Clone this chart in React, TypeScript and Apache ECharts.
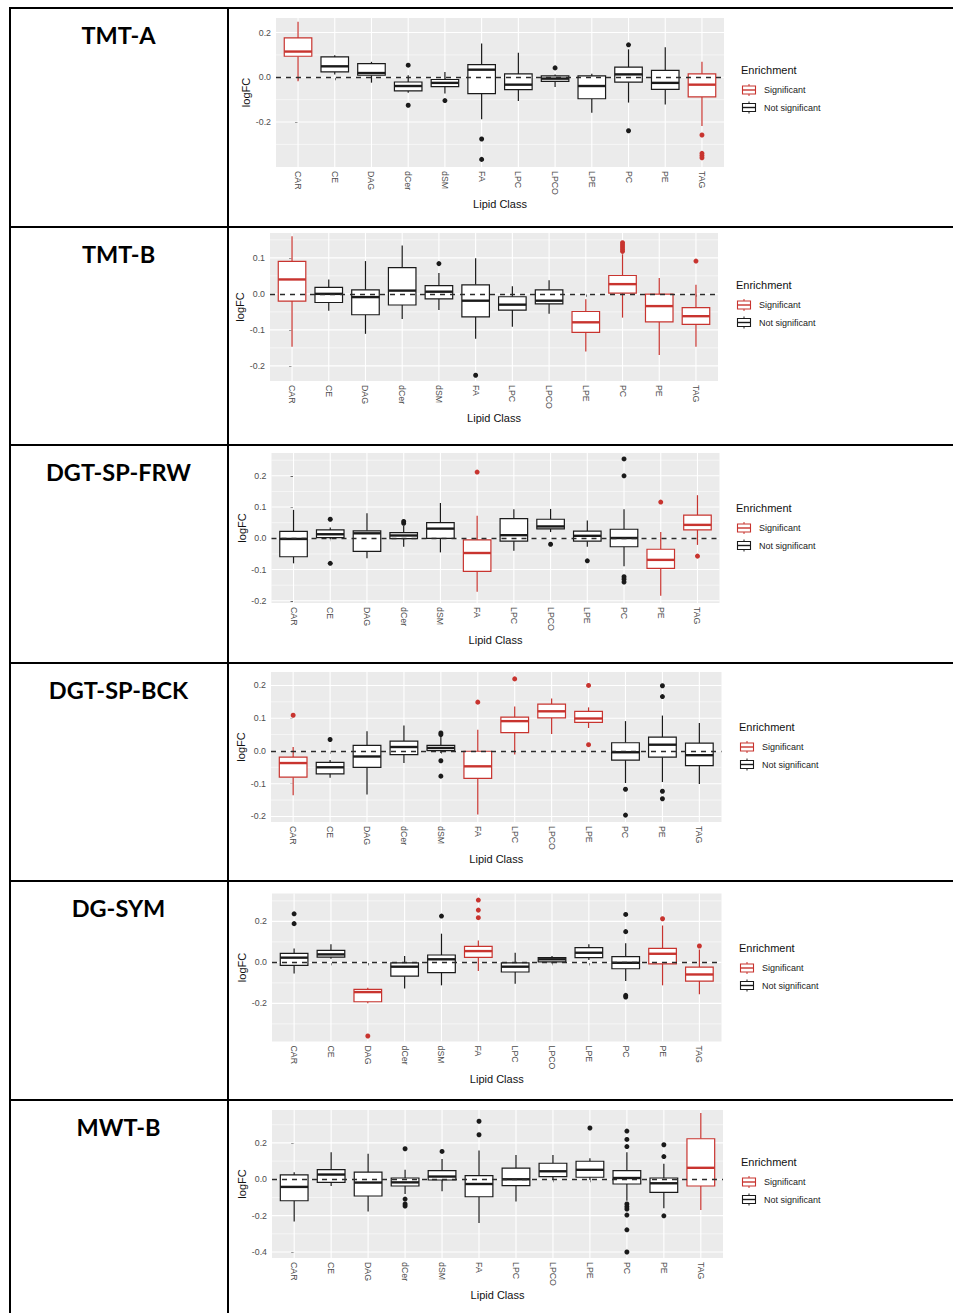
import React, { useEffect, useRef } from 'react';
import * as echarts from 'echarts';

const CATEGORIES = ['CAR', 'CE', 'DAG', 'dCer', 'dSM', 'FA', 'LPC', 'LPCO', 'LPE', 'PC', 'PE', 'TAG'];

// box stats per class: [lower whisker, Q1, median, Q3, upper whisker]
const TMT_A_STATS = [
  [-0.018, 0.094, 0.115, 0.176, 0.248],
  [0.012, 0.024, 0.049, 0.091, 0.098],
  [-0.024, 0.009, 0.019, 0.061, 0.069],
  [-0.069, -0.061, -0.039, -0.021, 0.009],
  [-0.073, -0.042, -0.025, -0.01, 0.024],
  [-0.188, -0.073, 0.034, 0.057, 0.151],
  [-0.106, -0.055, -0.033, 0.015, 0.11],
  [-0.043, -0.018, -0.006, 0.006, 0.012],
  [-0.158, -0.096, -0.039, 0.006, 0.016],
  [-0.113, -0.022, 0.013, 0.045, 0.125],
  [-0.122, -0.054, -0.025, 0.031, 0.134],
  [-0.218, -0.088, -0.033, 0.015, 0.069],
];
const TMT_A_SIG = ['CAR', 'TAG'];
const TMT_A_OUTLIERS: [string, number][] = [
  ['dCer', 0.054], ['dCer', -0.125], ['dSM', -0.104], ['FA', -0.276], ['FA', -0.367],
  ['LPCO', 0.042], ['PC', 0.145], ['PC', -0.239],
  ['TAG', -0.258], ['TAG', -0.34], ['TAG', -0.35], ['TAG', -0.36],
];

const TMT_B_STATS = [
  [-0.147, -0.02, 0.04, 0.09, 0.16],
  [-0.047, -0.024, 0.0, 0.018, 0.04],
  [-0.111, -0.058, -0.009, 0.011, 0.091],
  [-0.07, -0.031, 0.009, 0.073, 0.134],
  [-0.045, -0.014, 0.006, 0.023, 0.058],
  [-0.125, -0.064, -0.019, 0.025, 0.099],
  [-0.091, -0.045, -0.03, -0.008, 0.021],
  [-0.055, -0.028, -0.019, 0.011, 0.038],
  [-0.16, -0.107, -0.079, -0.049, -0.015],
  [-0.066, 0.002, 0.027, 0.051, 0.11],
  [-0.17, -0.078, -0.034, -0.001, 0.044],
  [-0.147, -0.085, -0.062, -0.038, 0.025],
];
const TMT_B_SIG = ['CAR', 'LPE', 'PC', 'PE', 'TAG'];
const TMT_B_OUTLIERS: [string, number][] = [
  ['dSM', 0.084], ['FA', -0.226],
  ['PC', 0.118], ['PC', 0.124], ['PC', 0.13], ['PC', 0.136], ['PC', 0.142],
  ['TAG', 0.091],
];

const FRW_STATS = [
  [-0.08, -0.059, -0.002, 0.022, 0.091],
  [-0.003, 0.002, 0.013, 0.027, 0.035],
  [-0.064, -0.042, 0.016, 0.024, 0.08],
  [-0.027, -0.001, 0.009, 0.018, 0.04],
  [-0.045, 0.0, 0.031, 0.05, 0.113],
  [-0.171, -0.106, -0.047, -0.005, 0.072],
  [-0.04, -0.009, 0.01, 0.063, 0.093],
  [0.02, 0.03, 0.038, 0.061, 0.094],
  [-0.027, -0.009, 0.008, 0.023, 0.057],
  [-0.089, -0.027, 0.001, 0.029, 0.093],
  [-0.184, -0.096, -0.069, -0.035, 0.02],
  [-0.021, 0.027, 0.043, 0.074, 0.138],
];
const FRW_SIG = ['FA', 'PE', 'TAG'];
const FRW_OUTLIERS: [string, number][] = [
  ['CE', 0.061], ['CE', -0.08], ['dCer', 0.054], ['dCer', 0.048], ['FA', 0.212],
  ['LPCO', -0.019], ['LPE', -0.072],
  ['PC', 0.254], ['PC', 0.2], ['PC', -0.123], ['PC', -0.131], ['PC', -0.14],
  ['PE', 0.116], ['TAG', -0.057],
];

const BCK_STATS = [
  [-0.135, -0.08, -0.037, -0.019, 0.012],
  [-0.082, -0.07, -0.05, -0.035, -0.028],
  [-0.133, -0.05, -0.017, 0.017, 0.06],
  [-0.037, -0.011, 0.012, 0.03, 0.078],
  [-0.006, 0.001, 0.009, 0.017, 0.045],
  [-0.194, -0.084, -0.047, -0.001, 0.065],
  [-0.011, 0.056, 0.091, 0.103, 0.136],
  [0.052, 0.101, 0.121, 0.143, 0.16],
  [0.07, 0.087, 0.099, 0.121, 0.133],
  [-0.098, -0.028, -0.004, 0.025, 0.091],
  [-0.095, -0.019, 0.019, 0.042, 0.108],
  [-0.101, -0.045, -0.013, 0.024, 0.085],
];
const BCK_SIG = ['CAR', 'FA', 'LPC', 'LPCO', 'LPE'];
const BCK_OUTLIERS: [string, number][] = [
  ['CAR', 0.109], ['CE', 0.035], ['dSM', 0.055], ['dSM', 0.05], ['dSM', -0.03], ['dSM', -0.077],
  ['FA', 0.149], ['LPC', 0.22], ['LPE', 0.2], ['LPE', 0.019],
  ['PC', -0.117], ['PC', -0.196],
  ['PE', 0.199], ['PE', 0.166], ['PE', -0.123], ['PE', -0.146],
];

const SYM_STATS = [
  [-0.054, -0.015, 0.023, 0.044, 0.068],
  [0.018, 0.026, 0.039, 0.059, 0.088],
  [-0.2, -0.192, -0.145, -0.132, -0.124],
  [-0.128, -0.067, -0.021, -0.002, 0.031],
  [-0.112, -0.05, 0.015, 0.036, 0.14],
  [-0.042, 0.024, 0.055, 0.078, 0.107],
  [-0.104, -0.047, -0.021, -0.002, 0.047],
  [-0.005, 0.002, 0.015, 0.023, 0.031],
  [0.011, 0.023, 0.047, 0.072, 0.088],
  [-0.091, -0.031, -0.002, 0.028, 0.093],
  [-0.112, -0.007, 0.042, 0.068, 0.18],
  [-0.156, -0.091, -0.059, -0.023, 0.063],
];
const SYM_SIG = ['DAG', 'FA', 'PE', 'TAG'];
const SYM_OUTLIERS: [string, number][] = [
  ['CAR', 0.237], ['CAR', 0.189], ['DAG', -0.359], ['dSM', 0.226],
  ['FA', 0.304], ['FA', 0.255], ['FA', 0.218],
  ['PC', 0.234], ['PC', 0.15], ['PC', -0.161], ['PC', -0.169],
  ['PE', 0.213], ['TAG', 0.08],
];

const MWT_STATS = [
  [-0.232, -0.118, -0.042, 0.024, 0.039],
  [-0.037, -0.017, 0.026, 0.053, 0.149],
  [-0.177, -0.092, -0.018, 0.039, 0.14],
  [-0.081, -0.037, -0.017, 0.007, 0.052],
  [-0.066, -0.004, 0.015, 0.048, 0.112],
  [-0.241, -0.096, -0.026, 0.02, 0.158],
  [-0.122, -0.035, 0.0, 0.061, 0.134],
  [-0.004, 0.015, 0.044, 0.088, 0.134],
  [-0.004, 0.011, 0.052, 0.099, 0.116],
  [-0.118, -0.026, 0.007, 0.048, 0.149],
  [-0.16, -0.072, -0.022, 0.007, 0.085],
  [-0.169, -0.037, 0.063, 0.223, 0.365],
];
const MWT_SIG = ['TAG'];
const MWT_OUTLIERS: [string, number][] = [
  ['dCer', 0.168], ['dCer', -0.109], ['dCer', -0.136], ['dCer', -0.147], ['dSM', 0.153],
  ['FA', 0.319], ['FA', 0.245], ['LPE', 0.282],
  ['PC', 0.265], ['PC', 0.219], ['PC', 0.18], ['PC', -0.136], ['PC', -0.151], ['PC', -0.164],
  ['PC', -0.197], ['PC', -0.278], ['PC', -0.4],
  ['PE', 0.19], ['PE', 0.125], ['PE', -0.201],
];

const ROW_LABELS = ['TMT-A', 'TMT-B', 'DGT-SP-FRW', 'DGT-SP-BCK', 'DG-SYM', 'MWT-B'];
const LEGEND_TITLE = 'Enrichment';
const LEGEND_ITEMS = ['Significant', 'Not significant'];

// axis ranges and tick values
const Y_RANGES = [
  [-0.401, 0.265],
  [-0.242, 0.169],
  [-0.207, 0.273],
  [-0.217, 0.241],
  [-0.386, 0.336],
  [-0.433, 0.381],
];
const Y_MAJOR = [
  [-0.2, 0, 0.2],
  [-0.2, -0.1, 0, 0.1],
  [-0.2, -0.1, 0, 0.1, 0.2],
  [-0.2, -0.1, 0, 0.1, 0.2],
  [-0.2, 0, 0.2],
  [-0.4, -0.2, 0, 0.2],
];
const Y_MINOR = [
  [-0.3, -0.1, 0.1],
  [-0.15, -0.05, 0.05, 0.15],
  [-0.15, -0.05, 0.05, 0.15, 0.25],
  [-0.15, -0.05, 0.05, 0.15],
  [-0.3, -0.1, 0.1, 0.3],
  [-0.3, -0.1, 0.1, 0.3],
];

const DATASETS = [
  { stats: TMT_A_STATS, sig: TMT_A_SIG, outliers: TMT_A_OUTLIERS },
  { stats: TMT_B_STATS, sig: TMT_B_SIG, outliers: TMT_B_OUTLIERS },
  { stats: FRW_STATS, sig: FRW_SIG, outliers: FRW_OUTLIERS },
  { stats: BCK_STATS, sig: BCK_SIG, outliers: BCK_OUTLIERS },
  { stats: SYM_STATS, sig: SYM_SIG, outliers: SYM_OUTLIERS },
  { stats: MWT_STATS, sig: MWT_SIG, outliers: MWT_OUTLIERS },
];

// layout (page pixels)
const GRID_BOXES = [
  { left: 276, top: 18, right: 724, bottom: 167 },
  { left: 270, top: 233, right: 718, bottom: 381 },
  { left: 271.5, top: 453, right: 719.5, bottom: 603 },
  { left: 271, top: 672, right: 721.5, bottom: 822 },
  { left: 272, top: 893.5, right: 721.5, bottom: 1041.5 },
  { left: 272, top: 1110, right: 723, bottom: 1258 },
];
const LEGEND_POS = [
  { x: 741, y: 70 },
  { x: 736, y: 285 },
  { x: 736, y: 508 },
  { x: 739, y: 727 },
  { x: 739, y: 948 },
  { x: 741, y: 1162 },
];
const ROW_TOPS = [8, 227, 445, 663, 881, 1100];

const RED = '#C8342F';
const BLACK = '#1A1A1A';
const FONT = '"Liberation Sans", Arial, sans-serif';
const IDX = CATEGORIES.map((_, i) => i);

function buildOption() {
  const grid: any[] = [];
  const xAxis: any[] = [];
  const yAxis: any[] = [];
  const series: any[] = [];
  const graphic: any[] = [];

  DATASETS.forEach((ds, i) => {
    const g = GRID_BOXES[i];
    grid.push({
      left: g.left,
      top: g.top,
      width: g.right - g.left,
      height: g.bottom - g.top,
      show: true,
      backgroundColor: '#EBEBEB',
      borderWidth: 0,
      containLabel: false,
      outerBoundsMode: 'none',
    });
    xAxis.push({
      type: 'value',
      gridIndex: i,
      min: -0.6,
      max: 11.6,
      axisLine: { show: false },
      splitLine: { show: false },
      axisTick: { show: true, customValues: IDX, length: 3, lineStyle: { color: '#333333', width: 1 } },
      axisLabel: {
        show: true,
        customValues: IDX,
        rotate: -90,
        margin: 4,
        color: '#4D4D4D',
        fontSize: 8.8,
        fontFamily: FONT,
        formatter: (v: number) => CATEGORIES[Math.round(v)] ?? '',
      },
      name: 'Lipid Class',
      nameLocation: 'middle',
      nameGap: 30,
      nameTextStyle: { color: '#111', fontSize: 11, fontFamily: FONT },
    });
    yAxis.push({
      type: 'value',
      gridIndex: i,
      min: Y_RANGES[i][0],
      max: Y_RANGES[i][1],
      axisLine: { show: false },
      splitLine: { show: false },
      axisTick: { show: true, customValues: Y_MAJOR[i], length: 3, lineStyle: { color: '#333333', width: 1 } },
      axisLabel: {
        show: true,
        customValues: Y_MAJOR[i],
        margin: 5,
        color: '#4D4D4D',
        fontSize: 8.8,
        fontFamily: FONT,
        formatter: (v: number) => (Math.abs(v) < 1e-9 ? '0.0' : v.toFixed(1)),
      },
      name: 'logFC',
      nameLocation: 'middle',
      nameGap: 23,
      nameRotate: 90,
      nameTextStyle: { color: '#111', fontSize: 11, fontFamily: FONT },
    });

    // grid lines
    const gridData: number[][] = [];
    Y_MAJOR[i].forEach((v) => gridData.push([0, v, 0, 1]));
    Y_MINOR[i].forEach((v) => gridData.push([0, v, 0, 0]));
    IDX.forEach((k) => gridData.push([k, 0, 1, 1]));
    series.push({
      type: 'custom',
      xAxisIndex: i,
      yAxisIndex: i,
      z: 1,
      silent: true,
      encode: { x: 0, y: 1 },
      data: gridData,
      renderItem: (params: any, api: any) => {
        const cs = params.coordSys;
        const kind = api.value(2);
        const major = api.value(3);
        if (kind === 0) {
          const y = api.coord([0, api.value(1)])[1];
          return {
            type: 'line',
            shape: { x1: cs.x, y1: y, x2: cs.x + cs.width, y2: y },
            style: { stroke: '#FFFFFF', lineWidth: major ? 1.1 : 0.55 },
          };
        }
        const x = api.coord([api.value(0), 0])[0];
        return {
          type: 'line',
          shape: { x1: x, y1: cs.y, x2: x, y2: cs.y + cs.height },
          style: { stroke: '#FFFFFF', lineWidth: 1.1 },
        };
      },
    });

    // boxes
    const boxData = ds.stats.map((s, k) => [k, ...s, ds.sig.includes(CATEGORIES[k]) ? 1 : 0]);
    series.push({
      type: 'custom',
      xAxisIndex: i,
      yAxisIndex: i,
      z: 3,
      silent: true,
      encode: { x: 0, y: [1, 2, 3, 4, 5] },
      data: boxData,
      renderItem: (params: any, api: any) => {
        const x = api.value(0);
        const color = api.value(6) ? RED : BLACK;
        const pLo = api.coord([x, api.value(1)]);
        const pQ1 = api.coord([x, api.value(2)]);
        const pMed = api.coord([x, api.value(3)]);
        const pQ3 = api.coord([x, api.value(4)]);
        const pHi = api.coord([x, api.value(5)]);
        const half = api.size([0.75, 0])[0] / 2;
        const cx = pMed[0];
        return {
          type: 'group',
          children: [
            { type: 'line', shape: { x1: cx, y1: pQ3[1], x2: cx, y2: pHi[1] }, style: { stroke: color, lineWidth: 1.2 } },
            { type: 'line', shape: { x1: cx, y1: pQ1[1], x2: cx, y2: pLo[1] }, style: { stroke: color, lineWidth: 1.2 } },
            {
              type: 'rect',
              shape: { x: cx - half, y: pQ3[1], width: half * 2, height: pQ1[1] - pQ3[1] },
              style: { fill: '#FFFFFF', stroke: color, lineWidth: 1.2 },
            },
            { type: 'line', shape: { x1: cx - half, y1: pMed[1], x2: cx + half, y2: pMed[1] }, style: { stroke: color, lineWidth: 2.4 } },
          ],
        };
      },
    });

    // outliers + dashed zero line
    const outData = ds.outliers.map(([c, v]) => [CATEGORIES.indexOf(c), v, ds.sig.includes(c) ? 1 : 0]);
    series.push({
      type: 'scatter',
      xAxisIndex: i,
      yAxisIndex: i,
      z: 4,
      silent: true,
      symbol: 'circle',
      symbolSize: 5,
      data: outData,
      itemStyle: { color: (p: any) => (p.value[2] ? RED : BLACK), opacity: 1 },
      markLine: {
        silent: true,
        symbol: ['none', 'none'],
        label: { show: false },
        lineStyle: { color: '#2B2B2B', width: 1.3, type: [5, 5] },
        data: [{ yAxis: 0 }],
      },
    });

    // row label
    graphic.push({
      type: 'text',
      x: 118.5,
      y: ROW_TOPS[i] + 27,
      style: {
        text: ROW_LABELS[i],
        fill: '#000',
        fontSize: 23.5,
        fontWeight: 'bold',
        fontFamily: 'Lato, "Open Sans", sans-serif',
        align: 'center',
        verticalAlign: 'middle',
      },
    });

    // legend
    const lp = LEGEND_POS[i];
    graphic.push({
      type: 'text',
      x: lp.x,
      y: lp.y,
      style: { text: LEGEND_TITLE, fill: '#111', fontSize: 11, fontFamily: FONT, align: 'left', verticalAlign: 'middle' },
    });
    LEGEND_ITEMS.forEach((label, j) => {
      const ky = lp.y + 20 + j * 17.5;
      const kx = lp.x + 1;
      const color = j === 0 ? RED : BLACK;
      graphic.push({
        type: 'group',
        children: [
          { type: 'line', shape: { x1: kx + 7, y1: ky - 6, x2: kx + 7, y2: ky - 4 }, style: { stroke: color, lineWidth: 1 } },
          { type: 'line', shape: { x1: kx + 7, y1: ky + 4, x2: kx + 7, y2: ky + 6 }, style: { stroke: color, lineWidth: 1 } },
          { type: 'rect', shape: { x: kx + 0.5, y: ky - 4, width: 13, height: 8 }, style: { fill: '#fff', stroke: color, lineWidth: 1.1 } },
          { type: 'line', shape: { x1: kx + 0.5, y1: ky, x2: kx + 13.5, y2: ky }, style: { stroke: color, lineWidth: 1.4 } },
        ],
      });
      graphic.push({
        type: 'text',
        x: lp.x + 23,
        y: ky,
        style: { text: label, fill: '#222', fontSize: 9, fontFamily: FONT, align: 'left', verticalAlign: 'middle' },
      });
    });
  });

  // table lines
  const tl = { stroke: '#000', lineWidth: 2 };
  graphic.push({ type: 'line', shape: { x1: 9, y1: 8, x2: 953, y2: 8 }, style: tl });
  graphic.push({ type: 'line', shape: { x1: 10, y1: 7, x2: 10, y2: 1313 }, style: tl });
  graphic.push({ type: 'line', shape: { x1: 228, y1: 7, x2: 228, y2: 1313 }, style: tl });
  ROW_TOPS.slice(1).forEach((y) => {
    graphic.push({ type: 'line', shape: { x1: 9, y1: y, x2: 953, y2: y }, style: tl });
  });

  return { animation: false, backgroundColor: '#FFFFFF', grid, xAxis, yAxis, series, graphic };
}

export default function App() {
  const ref = useRef<HTMLDivElement>(null);
  useEffect(() => {
    if (!ref.current) return;
    const chart = echarts.init(ref.current, undefined, { renderer: 'svg' });
    chart.setOption(buildOption() as any);
    return () => chart.dispose();
  }, []);
  return (
    <div
      ref={ref}
      style={{ position: 'absolute', left: 0, top: 0, width: 953, height: 1313, background: '#fff' }}
    />
  );
}
